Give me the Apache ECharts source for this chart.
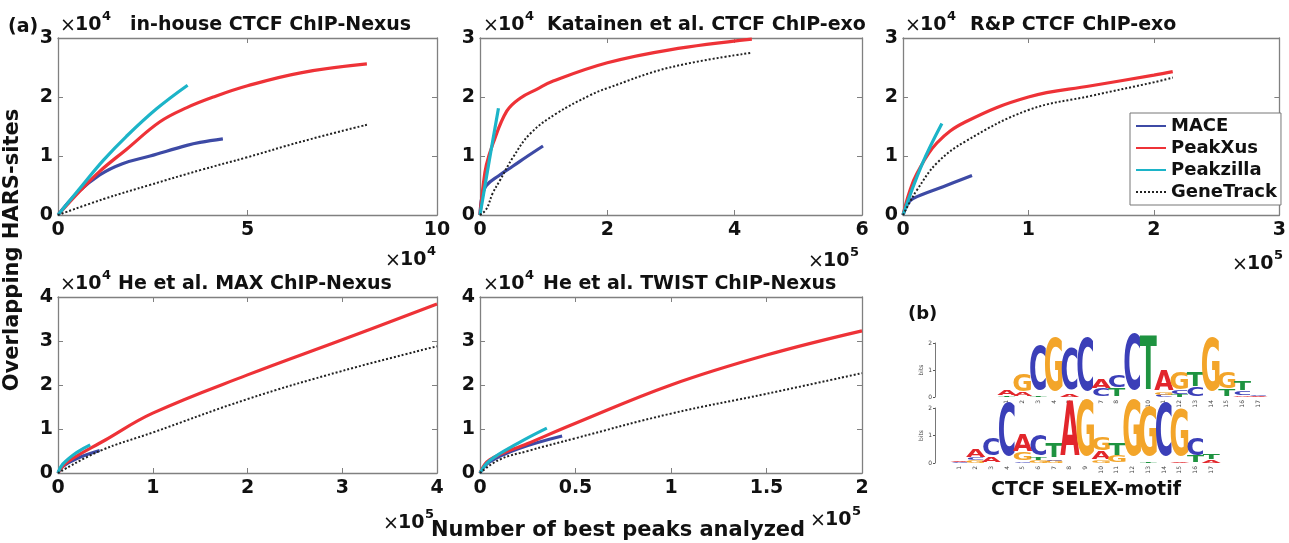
<!DOCTYPE html>
<html>
<head>
<meta charset="utf-8">
<script src="https://cdn.jsdelivr.net/npm/echarts@6/dist/echarts.min.js"></script>
<style>
  html, body { margin: 0; padding: 0; background: #fff; }
  #chart { width: 1289px; height: 543px; }
</style>
</head>
<body>
<div id="chart"></div>
<script>
// curves (x in units of the axis exponent, y in 1e4)
const inhouseMace      = [[0,0],[0.5,0.37],[1.1,0.68],[1.7,0.87],[2.43,1.0],[3.4,1.18],[3.75,1.23],[4.35,1.29]];
const inhousePeakXus   = [[0,0],[0.6,0.42],[1.1,0.74],[1.82,1.12],[2.69,1.58],[3.4,1.82],[4.1,2.0],[5.0,2.19],[6.4,2.41],[8.15,2.56]];
const inhousePeakzilla = [[0,0],[0.6,0.47],[1.2,0.93],[1.8,1.33],[2.6,1.8],[3.42,2.2]];
const inhouseGeneTrack = [[0,0],[1.2,0.27],[2.43,0.51],[3.75,0.76],[5.0,0.98],[6.4,1.24],[8.15,1.53]];

const katMace      = [[0,0],[0.03,0.3],[0.1,0.5],[0.3,0.67],[0.52,0.83],[0.75,1.0],[0.99,1.17]];
const katPeakXus   = [[0,0],[0.05,0.5],[0.1,0.85],[0.2,1.2],[0.42,1.76],[0.63,1.98],[0.89,2.13],[1.15,2.27],[2.0,2.58],[2.98,2.8],[4.27,2.98]];
const katPeakzilla = [[0,0],[0.15,0.95],[0.29,1.81]];
const katGeneTrack = [[0,0],[0.1,0.1],[0.2,0.37],[0.31,0.58],[0.52,0.98],[0.79,1.38],[1.2,1.72],[1.73,2.03],[2.0,2.15],[2.98,2.5],[4.27,2.75]];

const rpMace      = [[0,0],[0.04,0.2],[0.08,0.28],[0.32,0.48],[0.55,0.67]];
const rpPeakXus   = [[0,0],[0.05,0.38],[0.11,0.7],[0.27,1.22],[0.5,1.58],[1.0,2.0],[1.5,2.19],[2.0,2.37],[2.15,2.43]];
const rpPeakzilla = [[0,0],[0.15,0.85],[0.31,1.55]];
const rpGeneTrack = [[0,0],[0.05,0.2],[0.11,0.42],[0.27,0.88],[0.5,1.25],[1.0,1.78],[1.5,2.02],[2.0,2.25],[2.15,2.33]];

const maxMace      = [[0,0],[0.05,0.15],[0.2,0.33],[0.44,0.51]];
const maxPeakXus   = [[0,0],[0.1,0.25],[0.5,0.75],[1,1.36],[2,2.23],[3,3.03],[4,3.84]];
const maxPeakzilla = [[0,0],[0.05,0.2],[0.2,0.47],[0.34,0.64]];
const maxGeneTrack = [[0,0],[0.44,0.5],[1,0.92],[2,1.68],[3,2.32],[4,2.88]];

const twistMace      = [[0,0],[0.05,0.25],[0.2,0.55],[0.43,0.84]];
const twistPeakXus   = [[0,0],[0.05,0.3],[0.25,0.67],[0.5,1.13],[1,2.0],[1.5,2.68],[2,3.23]];
const twistPeakzilla = [[0,0],[0.05,0.28],[0.2,0.68],[0.35,1.02]];
const twistGeneTrack = [[0,0],[0.1,0.3],[0.25,0.5],[0.5,0.79],[1,1.35],[1.5,1.8],[2,2.27]];

const methods = ['MACE', 'PeakXus', 'Peakzilla', 'GeneTrack'];
const titles = ['in-house CTCF ChIP-Nexus', 'Katainen et al. CTCF ChIP-exo', 'R&P CTCF ChIP-exo',
                'He et al. MAX ChIP-Nexus', 'He et al. TWIST ChIP-Nexus'];
const xMaxes = [10, 6, 3, 4, 2];
const xSteps = [5, 2, 1, 1, 0.5];
const yMaxes = [3, 3, 3, 4, 4];
const xExponents = ['4', '5', '5', '5', '5'];

// sequence logo stacks, bottom to top: [base, bits]
const motifTop = [
  [['T',0.06],['A',0.2]], [['A',0.15],['G',0.6]], [['T',0.06],['C',1.6]], [['G',1.9]],
  [['A',0.1],['C',1.5]], [['C',1.9]], [['C',0.28],['A',0.35]], [['T',0.3],['C',0.45]],
  [['C',2.0]], [['T',1.95]], [['C',0.08],['G',0.08],['A',0.7]], [['T',0.08],['C',0.12],['G',0.6]],
  [['C',0.35],['T',0.5]], [['G',1.9]], [['T',0.25],['G',0.55]], [['A',0.05],['C',0.15],['T',0.35]],
  [['A',0.03],['C',0.03]]
];
const motifBottom = [
  [['C',0.03],['A',0.03]], [['G',0.1],['C',0.08],['A',0.3]], [['A',0.2],['C',0.6]], [['C',1.9]],
  [['C',0.05],['G',0.3],['A',0.6]], [['G',0.1],['T',0.08],['C',0.7]], [['G',0.08],['C',0.05],['T',0.5]],
  [['A',2.0]], [['G',2.0]], [['G',0.1],['A',0.3],['G',0.45]], [['G',0.25],['T',0.4]], [['G',2.0]],
  [['T',0.05],['G',1.75]], [['C',1.9]], [['A',0.05],['G',1.65]], [['T',0.22],['C',0.6]],
  [['A',0.1],['T',0.2]]
];
const positions = ['1','2','3','4','5','6','7','8','9','10','11','12','13','14','15','16','17'];

const panelData = [
  [inhouseMace, inhousePeakXus, inhousePeakzilla, inhouseGeneTrack],
  [katMace, katPeakXus, katPeakzilla, katGeneTrack],
  [rpMace, rpPeakXus, rpPeakzilla, rpGeneTrack],
  [maxMace, maxPeakXus, maxPeakzilla, maxGeneTrack],
  [twistMace, twistPeakXus, twistPeakzilla, twistGeneTrack]
];

const FONT = 'DejaVu Sans';
const lineColors = ['#3d4aa5', '#ee3237', '#1cb4c8', '#222222'];
const baseColors = { A: '#e2262b', C: '#3b3fb8', G: '#f3a52a', T: '#1e9340' };
const gridBoxes = [
  { left: 58,  top: 38,  width: 379, height: 177 },
  { left: 480, top: 38,  width: 382, height: 177 },
  { left: 903, top: 38,  width: 380, height: 177 },
  { left: 58,  top: 297, width: 379, height: 176 },
  { left: 480, top: 297, width: 382, height: 176 }
];

const chart = echarts.init(document.getElementById('chart'), null, { renderer: 'canvas' });

const grids = [], xAxes = [], yAxes = [], series = [];
const axisGray = '#808080';
const tickLabel = { color: '#111', fontFamily: FONT, fontWeight: 'bold', fontSize: 19 };

gridBoxes.forEach((g, i) => {
  grids.push(Object.assign({ containLabel: false }, g));
  [['bottom', true], ['top', false]].forEach(([pos, lab]) => {
    xAxes.push({
      type: 'value', gridIndex: i, position: pos, min: 0, max: xMaxes[i], interval: xSteps[i],
      axisLine: { show: true, onZero: false, lineStyle: { color: axisGray, width: 1.3 } },
      axisTick: { show: true, inside: true, length: 5, lineStyle: { color: axisGray } },
      axisLabel: Object.assign({ show: lab, margin: 6 }, tickLabel),
      splitLine: { show: false }
    });
  });
  [['left', true], ['right', false]].forEach(([pos, lab]) => {
    yAxes.push({
      type: 'value', gridIndex: i, position: pos, min: 0, max: yMaxes[i], interval: 1,
      axisLine: { show: true, onZero: false, lineStyle: { color: axisGray, width: 1.3 } },
      axisTick: { show: true, inside: true, length: 5, lineStyle: { color: axisGray } },
      axisLabel: Object.assign({ show: lab, margin: 5 }, tickLabel),
      splitLine: { show: false }
    });
  });
  panelData[i].forEach((d, k) => {
    series.push({
      type: 'line', name: methods[k], data: d,
      xAxisIndex: i * 2, yAxisIndex: i * 2,
      symbol: 'none', smooth: 0.4,
      lineStyle: k === 3 ? { color: lineColors[k], width: 2, type: 'dotted' }
                         : { color: lineColors[k], width: 3.2 },
      itemStyle: { color: lineColors[k] },
      z: k === 3 ? 4 : 3
    });
  });
});

// sequence logo panels
const logoBoxes = [
  { box: { left: 999, top: 343, width: 267, height: 54 }, offset: 64, motif: motifTop },
  { box: { left: 952, top: 408, width: 267, height: 55 }, offset: 17, motif: motifBottom }
];
logoBoxes.forEach((lg) => {
  const gi = grids.length;
  grids.push(lg.box);
  xAxes.push({
    type: 'category', gridIndex: gi, data: positions, boundaryGap: true,
    axisLine: { show: false }, axisTick: { show: false },
    axisLabel: { rotate: 90, fontSize: 6, color: '#444', margin: 3, fontFamily: FONT }
  });
  yAxes.push({
    type: 'value', gridIndex: gi, min: 0, max: 2, interval: 1, offset: lg.offset,
    name: 'bits', nameLocation: 'middle', nameGap: 10, nameRotate: 90,
    nameTextStyle: { fontSize: 6, color: '#444', fontFamily: FONT },
    axisLine: { show: true, lineStyle: { color: '#555', width: 0.8 } },
    axisTick: { show: true, length: 2, lineStyle: { color: '#555' } },
    axisLabel: { fontSize: 6, color: '#444', margin: 3, fontFamily: FONT },
    splitLine: { show: false }
  });
  const motif = lg.motif;
  series.push({
    type: 'custom', xAxisIndex: xAxes.length - 1, yAxisIndex: yAxes.length - 1,
    data: motif.map((s, idx) => [idx, s.reduce((a, b) => a + b[1], 0)]),
    renderItem: function (params, api) {
      const idx = params.dataIndex;
      const bw = api.size([1, 0])[0];
      const S = 40;
      let base = 0;
      const children = [];
      motif[idx].forEach(([b, h]) => {
        const p0 = api.coord([idx, base]);
        const p1 = api.coord([idx, base + h]);
        base += h;
        const ph = p0[1] - p1[1];
        if (ph < 0.4) return;
        children.push({
          type: 'text', x: p0[0], y: (p0[1] + p1[1]) / 2,
          scaleX: (bw * 1.05) / (0.66 * S), scaleY: ph / (0.729 * S),
          style: { text: b, fontSize: S, fontWeight: 'bold', fontFamily: FONT,
                   fill: baseColors[b], align: 'center', verticalAlign: 'middle' }
        });
      });
      return { type: 'group', children: children };
    },
    silent: true
  });
});

// titles, exponents and labels
function txt(x, y, text, size, weight, align, extra) {
  return Object.assign({
    type: 'text', x: x, y: y, silent: true, z: 10,
    style: { text: text, fontSize: size, fontWeight: weight || 'bold', fontFamily: FONT,
             fill: '#111', align: align || 'left', verticalAlign: 'middle' }
  }, extra || {});
}
const titleSpots = [[60, 25, 130], [483, 25, 547], [905, 25, 970], [60, 284, 118], [483, 284, 543]];
const xExpSpots = [[385, 260], [808, 261], [1232, 264], [383, 523], [810, 520]];
const graphics = [];
function exponent(x, y, e) {
  graphics.push(txt(x, y + 1, '×', 19, 'normal'));
  graphics.push(txt(x + 15, y, '10', 19, 'bold'));
  graphics.push(txt(x + 42, y - 8, e, 13, 'bold'));
}
titleSpots.forEach(([x, y, tx], i) => {
  exponent(x, y, '4');
  graphics.push(txt(tx, y, titles[i], 19, 'bold'));
});
xExpSpots.forEach(([x, y], i) => exponent(x, y, xExponents[i]));
graphics.push(txt(8, 27, '(a)', 19, 'bold'));
graphics.push(txt(908, 314, '(b)', 18, 'bold'));
graphics.push(txt(1086, 490, 'CTCF SELEX-motif', 19, 'bold', 'center'));
graphics.push(txt(618, 531, 'Number of best peaks analyzed', 21, 'bold', 'center'));
graphics.push(txt(13, 250, 'Overlapping HARS-sites', 21, 'bold', 'center', { rotation: Math.PI / 2 }));

chart.setOption({
  animation: false,
  backgroundColor: '#fff',
  grid: grids,
  xAxis: xAxes,
  yAxis: yAxes,
  legend: {
    data: methods, orient: 'vertical', left: 1130, top: 113,
    itemWidth: 30, itemHeight: 14, itemGap: 4, itemTextGap: 3,
    padding: [4, 4, 4, 5],
    backgroundColor: '#fff', borderColor: '#777', borderWidth: 1,
    itemStyle: { color: 'rgba(0,0,0,0)', borderColor: 'rgba(0,0,0,0)', borderWidth: 0 },
    textStyle: { fontFamily: FONT, fontWeight: 'bold', fontSize: 18, color: '#111', lineHeight: 18 },
    z: 20
  },
  graphic: graphics,
  series: series
});
</script>
</body>
</html>
